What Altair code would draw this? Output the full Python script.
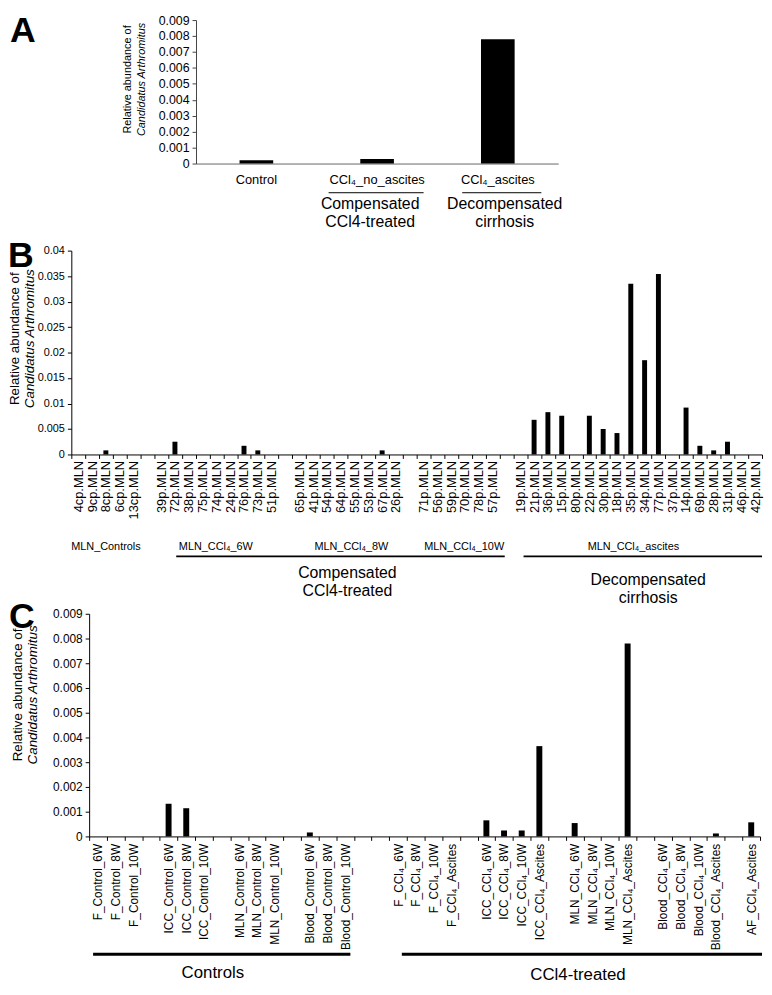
import altair as alt
import pandas as pd

FONT = "Liberation Sans"

# ---------------- shared texts ----------------
panel_letters = ["A", "B", "C"]
y_title_lines = ["Relative abundance of", "Candidatus Arthromitus"]

# ---------------- Panel A data ----------------
a_categories = ["Control", "CCl₄_no_ascites", "CCl₄_ascites"]
a_values = [0.0002, 0.00028, 0.0078]
a_ticks = [0, 0.001, 0.002, 0.003, 0.004, 0.005, 0.006, 0.007, 0.008, 0.009]
a_group_top = ["Compensated", "Decompensated"]
a_group_bottom = ["CCl4-treated", "cirrhosis"]

# ---------------- Panel B data ----------------
b_categories = [
    "4cp.MLN", "9cp.MLN", "8cp.MLN", "6cp.MLN", "13cp.MLN",
    "gap1",
    "39p.MLN", "72p.MLN", "38p.MLN", "75p.MLN", "74p.MLN", "24p.MLN", "76p.MLN", "73p.MLN", "51p.MLN",
    "gap2",
    "65p.MLN", "41p.MLN", "54p.MLN", "64p.MLN", "55p.MLN", "53p.MLN", "67p.MLN", "26p.MLN",
    "gap3",
    "71p.MLN", "56p.MLN", "59p.MLN", "70p.MLN", "78p.MLN", "57p.MLN",
    "gap4",
    "19p.MLN", "21p.MLN", "36p.MLN", "15p.MLN", "80p.MLN", "22p.MLN", "30p.MLN", "18p.MLN",
    "35p.MLN", "34p.MLN", "77p.MLN", "37p.MLN", "14p.MLN", "69p.MLN", "28p.MLN", "31p.MLN",
    "46p.MLN", "42p.MLN",
]
b_values = [
    0, 0, 0.0008, 0, 0,
    0,
    0, 0.0025, 0, 0, 0, 0, 0.0017, 0.0008, 0,
    0,
    0, 0, 0, 0, 0, 0, 0.0008, 0,
    0,
    0, 0, 0, 0, 0, 0,
    0,
    0, 0.0068, 0.0083, 0.0076, 0, 0.0076, 0.005, 0.0042,
    0.0335, 0.0185, 0.0354, 0, 0.0092, 0.0017, 0.0008, 0.0025,
    0, 0,
]
b_ticks = [0, 0.005, 0.01, 0.015, 0.02, 0.025, 0.03, 0.035, 0.04]
b_group_labels = ["MLN_Controls", "MLN_CCl₄_6W", "MLN_CCl₄_8W", "MLN_CCl₄_10W", "MLN_CCl₄_ascites"]
b_big_top = ["Compensated", "Decompensated"]
b_big_bottom = ["CCl4-treated", "cirrhosis"]

# ---------------- Panel C data ----------------
c_categories = [
    "F_Control_6W", "F_Control_8W", "F_Control_10W", "gap1",
    "ICC_Control_6W", "ICC_Control_8W", "ICC_Control_10W", "gap2",
    "MLN_Control_6W", "MLN_Control_8W", "MLN_Control_10W", "gap3",
    "Blood_Control_6W", "Blood_Control_8W", "Blood_Control_10W", "gap4", "gap5",
    "F_CCl₄_6W", "F_CCl₄_8W", "F_CCl₄_10W", "F_CCl₄_Ascites", "gap6",
    "ICC_CCl₄_6W", "ICC_CCl₄_8W", "ICC_CCl₄_10W", "ICC_CCl₄_Ascites", "gap7",
    "MLN_CCl₄_6W", "MLN_CCl₄_8W", "MLN_CCl₄_10W", "MLN_CCl₄_Ascites", "gap8",
    "Blood_CCl₄_6W", "Blood_CCl₄_8W", "Blood_CCl₄_10W", "Blood_CCl₄_Ascites", "gap9",
    "AF_CCl₄_Ascites",
]
c_values = [
    0, 0, 0, 0,
    0.00132, 0.00114, 0, 0,
    0, 0, 0, 0,
    0.00016, 0, 0, 0, 0,
    0, 0, 0, 0, 0,
    0.00065, 0.00024, 0.00024, 0.00365, 0,
    0.00054, 0, 0, 0.0078, 0,
    0, 0, 0, 0.00012, 0,
    0.00057,
]
c_ticks = [0, 0.001, 0.002, 0.003, 0.004, 0.005, 0.006, 0.007, 0.008, 0.009]
c_group_labels = ["Controls", "CCl4-treated"]

HIDE_GAPS = "indexof(datum.label, 'gap') == 0 ? '' : datum.label"


def one_row(**kw):
    return alt.Data(values=[kw])


def spacer(x0, x1, y0, y1):
    return alt.Chart(one_row(s=1)).mark_rule(opacity=0).encode(
        x=alt.value(x0), x2=alt.value(x1), y=alt.value(y0), y2=alt.value(y1)
    )


def hline(x0, x1, y, width):
    return alt.Chart(one_row(s=1)).mark_rule(color="black", strokeWidth=width).encode(
        x=alt.value(x0), x2=alt.value(x1), y=alt.value(y)
    )


def static_text(txt, x, y, **mark):
    mark.setdefault("color", "black")
    return alt.Chart(one_row(t=txt)).mark_text(**mark).encode(
        x=alt.value(x), y=alt.value(y), text="t:N"
    )


def letter(txt, x, y):
    return static_text(txt, x, y, fontSize=36, fontWeight="bold", align="left",
                       baseline="top")


def ytitle(x1, x2, yc, size):
    return [
        static_text(y_title_lines[0], x1, yc, angle=270, fontSize=size, align="center",
                    baseline="middle"),
        static_text(y_title_lines[1], x2, yc, angle=270, fontSize=size, align="center",
                    baseline="middle", fontStyle="italic"),
    ]


# All three panels share the same plot-area origin (page x = 72);
# panels A and C start their category axes further right via the scale range.

# ======================= Panel A =======================
A_W, A_H = 492, 145
A_X0 = 126
a_df = pd.DataFrame({"group": a_categories, "abundance": a_values})

a_bars = alt.Chart(a_df).mark_bar(size=34, color="black").encode(
    x=alt.X("group:N", sort=a_categories,
            scale=alt.Scale(range=[A_X0, A_W], paddingInner=0, paddingOuter=0),
            axis=alt.Axis(title=None, labelAngle=0, ticks=False, tickSize=0, labelPadding=10,
                          labelFontSize=13, domainColor="#666666", labelColor="black")),
    y=alt.Y("abundance:Q", scale=alt.Scale(domain=[0, 0.009], nice=False),
            axis=alt.Axis(title=None, values=a_ticks, format=".3~f", labelFontSize=12.5,
                          tickSize=4, tickColor="#444444", domainColor="#444444",
                          labelPadding=3, grid=False, labelColor="black", offset=-A_X0)),
)

panel_a = alt.layer(
    spacer(-64, 0, -7, 217),
    a_bars,
    hline(260, 356, 174.5, 1),
    hline(395, 475, 174.5, 1),
    static_text(a_group_top[0], 302, 186, fontSize=16),
    static_text(a_group_bottom[0], 302, 204, fontSize=16),
    static_text(a_group_top[1], 438, 186, fontSize=16),
    static_text(a_group_bottom[1], 438, 204, fontSize=16),
    letter(panel_letters[0], -62, -6),
    *ytitle(57, 71, 60, 11),
).properties(width=A_W, height=A_H)

# ======================= Panel B =======================
B_W, B_H = 698, 206
b_df = pd.DataFrame({"sample": b_categories, "abundance": b_values})

b_bars = alt.Chart(b_df).mark_bar(size=5, color="black").encode(
    x=alt.X("sample:N", sort=b_categories,
            scale=alt.Scale(paddingInner=0, paddingOuter=0),
            axis=alt.Axis(title=None, labelAngle=270, labelFontSize=13, tickBand="extent",
                          tickSize=4, labelPadding=2, labelExpr=HIDE_GAPS,
                          domainColor="black", tickColor="black", labelColor="black")),
    y=alt.Y("abundance:Q", scale=alt.Scale(domain=[0, 0.04], nice=False),
            axis=alt.Axis(title=None, values=b_ticks, format=".3~f", labelFontSize=11,
                          tickSize=4, tickColor="black", domainColor="black",
                          labelPadding=3, grid=False, labelColor="black")),
)

b_label_x = [35, 146, 283, 397, 568]
b_groups = [static_text(t, x, 300, fontSize=11) for t, x in zip(b_group_labels, b_label_x)]

panel_b = alt.layer(
    spacer(-64, 0, -16, 315),
    b_bars, *b_groups,
    hline(106, 438, 309, 2),
    hline(457, 698, 309, 2),
    letter(panel_letters[1], -64, -11),
    *ytitle(-57, -42, 89, 13.5),
).properties(width=B_W, height=B_H)

# ======================= Panel C =======================
C_W, C_H = 696, 225
C_X0 = 18
c_df = pd.DataFrame({"sample": c_categories, "abundance": c_values})

c_bars = alt.Chart(c_df).mark_bar(size=6, color="black").encode(
    x=alt.X("sample:N", sort=c_categories,
            scale=alt.Scale(range=[C_X0, C_W], paddingInner=0, paddingOuter=0),
            axis=alt.Axis(title=None, labelAngle=270, labelFontSize=12, tickBand="extent",
                          tickSize=4, labelPadding=3, labelExpr=HIDE_GAPS,
                          domainColor="black", tickColor="black", labelColor="black")),
    y=alt.Y("abundance:Q", scale=alt.Scale(domain=[0, 0.009], nice=False),
            axis=alt.Axis(title=None, values=c_ticks, format=".3~f", labelFontSize=12,
                          tickSize=4, tickColor="black", domainColor="black",
                          labelPadding=3, grid=False, labelColor="black", offset=-C_X0)),
)

panel_c = alt.layer(
    spacer(-64, 0, -52, 0),
    c_bars,
    hline(22, 282, 344, 3),
    hline(334, 698, 344, 3),
    static_text(c_group_labels[0], 143, 363, fontSize=17),
    static_text(c_group_labels[1], 512, 365, fontSize=17),
    # large captions that belong under panel B
    static_text(b_big_top[0], 279, -41, fontSize=16),
    static_text(b_big_bottom[0], 279, -23, fontSize=16),
    static_text(b_big_top[1], 583, -34, fontSize=16),
    static_text(b_big_bottom[1], 583, -16, fontSize=16),
    letter(panel_letters[2], -63, -14),
    *ytitle(-54, -39, 82, 13.5),
).properties(width=C_W, height=C_H)

chart = alt.vconcat(
    panel_a, panel_b, panel_c, spacing=0, bounds="full"
).properties(padding=0).configure(font=FONT).configure_view(stroke=None).configure_axis(
    labelFont=FONT, grid=False
)

chart.save("out.html", embed_options={"renderer": "svg", "actions": False})
